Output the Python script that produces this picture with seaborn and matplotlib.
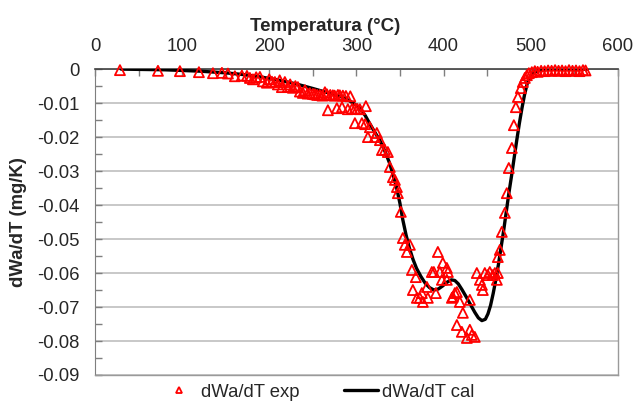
import numpy as np
import pandas as pd
import matplotlib
matplotlib.use("Agg")
import matplotlib.pyplot as plt
from matplotlib.ticker import MultipleLocator, FuncFormatter
from matplotlib.lines import Line2D
import seaborn as sns

T_exp = [28.7, 72.3, 97.5, 119.3, 135.4, 145.7, 152.6, 160.6, 168.6, 174.4,
         177.8, 181.3, 185.0, 189.3, 192.7, 197.3, 200.0, 203.1, 206.5, 209.9,
         212.0, 214.5, 217.9, 221.4, 224.0, 227.1, 230.0, 232.9, 235.2, 238.6,
         241.0, 244.0, 246.6, 250.1, 252.4, 255.0, 258.1, 261.0, 263.9, 266.2,
         267.3, 270.0, 273.0, 275.0, 277.6, 278.8, 281.0, 283.5, 284.5, 288.0,
         290.2, 293.0, 295.0, 298.3, 298.3, 301.0, 304.0, 306.3, 310.9, 310.0,
         313.2, 315.5, 321.2, 323.5, 327.0, 329.3, 332.7, 336.1, 338.4, 341.9,
         344.2, 346.5, 347.6, 351.0, 353.3, 355.6, 357.9, 361.4, 363.7, 368.2,
         364.8, 369.4, 372.8, 375.1, 376.3, 380.9, 382.0, 386.6, 388.9, 391.2,
         393.5, 395.8, 398.1, 399.2, 403.8, 403.8, 405.0, 409.6, 410.7, 413.0,
         415.3, 415.3, 418.7, 421.0, 422.2, 426.8, 430.2, 430.2, 432.5, 435.9,
         438.2, 441.7, 444.0, 445.1, 447.4, 450.9, 453.1, 456.6, 458.9, 461.2,
         462.3, 462.3, 464.6, 466.9, 470.4, 472.6, 474.9, 478.4, 480.7, 483.0,
         485.3, 488.7, 491.0, 493.3, 495.6, 497.9, 501.3, 504.8, 508.0, 512.0,
         516.0, 520.0, 524.0, 528.0, 532.0, 536.0, 540.0, 544.0, 548.0, 552.0,
         556.0, 560.0, 563.0]
dw_exp = [-0.0003, -0.0005, -0.0006, -0.0009, -0.0012, -0.0011, -0.0013, -0.0021, -0.0019, -0.0020,
          -0.0026, -0.0030, -0.0024, -0.0023, -0.0036, -0.0040, -0.0030, -0.0037, -0.0038, -0.0045,
          -0.0033, -0.0053, -0.0038, -0.0052, -0.0045, -0.0055, -0.0050, -0.0053, -0.0066, -0.0070,
          -0.0062, -0.0072, -0.0071, -0.0073, -0.0074, -0.0076, -0.0076, -0.0078, -0.0068, -0.0074,
          -0.0121, -0.0076, -0.0077, -0.0078, -0.0115, -0.0076, -0.0077, -0.0112, -0.0078, -0.0079,
          -0.0118, -0.0080, -0.0117, -0.0116, -0.0159, -0.0117, -0.0118, -0.0159, -0.0109, -0.0162,
          -0.0200, -0.0171, -0.0200, -0.0188, -0.0209, -0.0238, -0.0238, -0.0244, -0.0288, -0.0318,
          -0.0326, -0.0347, -0.0365, -0.0420, -0.0497, -0.0517, -0.0538, -0.0517, -0.0591, -0.0612,
          -0.0650, -0.0673, -0.0673, -0.0659, -0.0685, -0.0641, -0.0673, -0.0597, -0.0597, -0.0659,
          -0.0538, -0.0597, -0.0620, -0.0570, -0.0585, -0.0620, -0.0597, -0.0673, -0.0670, -0.0659,
          -0.0656, -0.0753, -0.0685, -0.0773, -0.0717, -0.0791, -0.0767, -0.0679, -0.0782, -0.0788,
          -0.0600, -0.0620, -0.0635, -0.0650, -0.0600, -0.0606, -0.0597, -0.0606, -0.0600, -0.0620,
          -0.0600, -0.0553, -0.0532, -0.0479, -0.0423, -0.0365, -0.0291, -0.0232, -0.0165, -0.0112,
          -0.0082, -0.0056, -0.0038, -0.0026, -0.0018, -0.0012, -0.0009, -0.0006, -0.0008, -0.0005,
          -0.0006, -0.0004, -0.0005, -0.0003, -0.0005, -0.0004, -0.0006, -0.0003, -0.0005, -0.0004,
          -0.0006, -0.0003, -0.0004]

# calculated curve
T_cal = [30, 80, 120, 150, 170, 190, 210, 230, 250, 265, 275, 285, 292, 298,
         304, 310, 315, 321, 327, 333, 338, 342, 346, 350, 353, 357, 361, 365,
         369, 374, 379, 384, 389, 394, 399, 404, 409, 413, 417, 421, 426, 431,
         436, 440, 444, 448, 451, 454, 457, 460, 463, 466, 469, 472, 475, 478,
         481, 484, 487, 490, 493, 496, 500, 505, 512, 520, 540, 565]
dw_cal = [0.0, -0.0002, -0.0006, -0.0011, -0.0016, -0.0023, -0.0032, -0.0043,
          -0.0057, -0.0068, -0.0075, -0.0084, -0.0093, -0.0103, -0.0116, -0.0136,
          -0.0159, -0.0185, -0.0210, -0.0243, -0.0276, -0.0310, -0.0347, -0.0395,
          -0.0440, -0.0488, -0.0528, -0.0560, -0.0586, -0.0610, -0.0630, -0.0643,
          -0.0650, -0.0647, -0.0638, -0.0627, -0.0620, -0.0622, -0.0632, -0.0648,
          -0.0670, -0.0693, -0.0716, -0.0732, -0.0740, -0.0736, -0.0720, -0.0695,
          -0.0660, -0.0620, -0.0575, -0.0525, -0.0475, -0.0420, -0.0365, -0.0315,
          -0.0262, -0.0210, -0.0160, -0.0115, -0.0075, -0.0043, -0.0020, -0.0008,
          -0.0003, -0.0001, 0.0, 0.0]

sns.set_style("white")
plt.rcParams['font.family'] = ['Liberation Sans', 'DejaVu Sans']
plt.rcParams['axes.unicode_minus'] = False

exp_df = pd.DataFrame({'T': T_exp, 'dw': dw_exp})
cal_df = pd.DataFrame({'T': T_cal, 'dw': dw_cal})

fig = plt.figure(figsize=(6.33, 4.03), dpi=100)
ax = fig.add_axes([0.150, 0.0695, 0.826, 0.759])

sns.lineplot(data=cal_df, x='T', y='dw', ax=ax, color='black', linewidth=2.4,
             sort=False, zorder=3)
sns.scatterplot(data=exp_df, x='T', y='dw', ax=ax, marker='^', s=52,
                facecolor='none', edgecolor='red', linewidth=1.3,
                zorder=4, clip_on=False)

ax.set_xlim(0, 600)
ax.set_ylim(-0.09, 0)

# x axis on top
ax.xaxis.tick_top()
ax.xaxis.set_label_position('top')
ax.xaxis.set_major_locator(MultipleLocator(100))
ax.xaxis.set_minor_locator(MultipleLocator(50))
ax.yaxis.set_major_locator(MultipleLocator(0.01))
ax.yaxis.set_minor_locator(MultipleLocator(0.005))
ax.yaxis.set_major_formatter(FuncFormatter(lambda v, p: '0' if abs(v) < 1e-9 else f'{v:.2f}'))

ax.tick_params(axis='x', which='both', direction='in', length=5, width=1,
               color='#7f7f7f', labelsize=13.3, pad=10, top=True, bottom=False)
ax.tick_params(axis='y', which='both', direction='in', length=5, width=1,
               color='#7f7f7f', labelsize=13.3, pad=11, left=True, right=False)

ax.grid(axis='y', which='major', color='#bfbfbf', linewidth=1.2)
ax.set_axisbelow(True)

for side in ['bottom', 'right']:
    ax.spines[side].set_color('#9a9a9a')
    ax.spines[side].set_linewidth(1)
ax.spines['left'].set_color('#7f7f7f')
ax.spines['top'].set_color('#404040')
ax.spines['top'].set_linewidth(1.2)

ax.set_xlabel('Temperatura (°C)', fontsize=13.5, fontweight='bold')
ax.xaxis.set_label_coords(0.44, 1.125)
ax.set_ylabel('dWa/dT (mg/K)', fontsize=13.3, fontweight='bold', labelpad=7)

handles = [
    Line2D([], [], marker='^', linestyle='none', markersize=5,
           markerfacecolor='none', markeredgecolor='red', markeredgewidth=1.3),
    Line2D([], [], color='black', linewidth=2.4),
]
fig.legend(handles, ['dWa/dT exp', 'dWa/dT cal'], loc='center',
           bbox_to_anchor=(0.503, 0.027), ncol=2, frameon=False,
           fontsize=13.3, handlelength=1.85, handletextpad=0.25,
           columnspacing=2.4)

fig.savefig('out.png', dpi=100)
